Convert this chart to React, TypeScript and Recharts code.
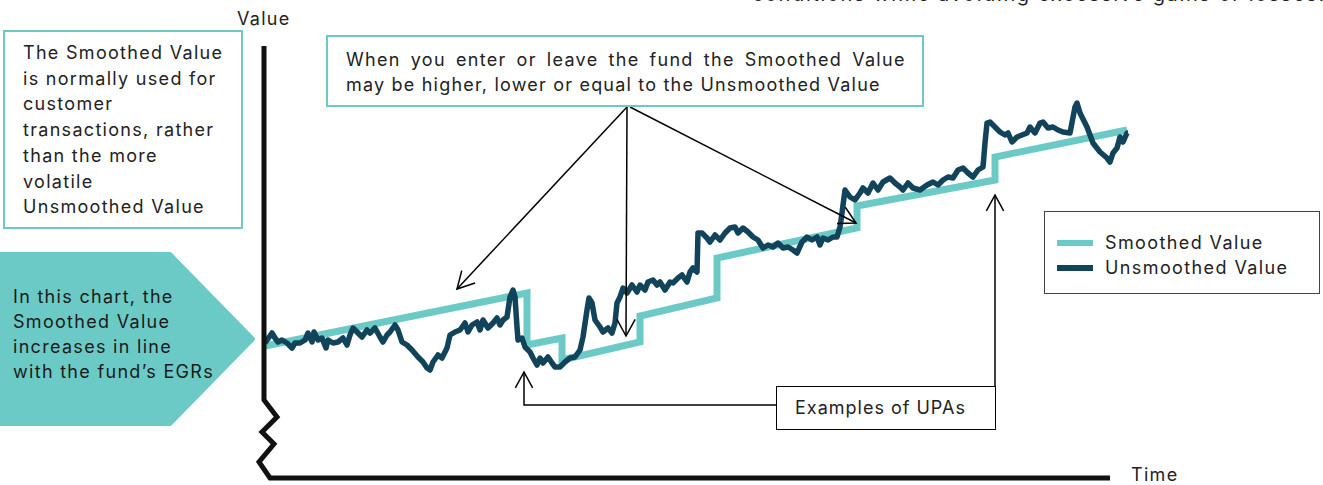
import React from "react";
import { LineChart, Line, XAxis, YAxis, Legend } from "recharts";

// time index vs fund value (arbitrary units)
const smoothedPoints: [number, number][] = [
  [0, 131], [262, 184], [262, 132], [297, 139], [297, 117], [375, 135],
  [375, 161], [452, 179], [452, 219], [592, 249], [592, 271], [730, 297],
  [730, 320], [862, 347],
];

const unsmoothedPoints: [number, number][] = [
  [0, 134], [7, 144], [10, 139], [13, 135], [17, 137], [22, 134], [27, 129],
  [30, 134], [35, 134], [40, 137], [43, 144], [47, 135], [49, 145], [53, 137],
  [57, 139], [61, 129], [63, 137], [68, 134], [73, 135], [78, 139], [82, 132],
  [85, 142], [88, 149], [93, 144], [97, 140], [102, 147], [105, 144], [110, 149],
  [115, 140], [118, 135], [122, 142], [125, 145], [130, 152], [133, 147],
  [137, 135], [142, 132], [147, 127], [153, 120], [158, 115], [162, 109],
  [165, 107], [168, 115], [173, 122], [177, 119], [182, 129], [185, 142],
  [190, 145], [195, 147], [200, 154], [203, 145], [207, 152], [212, 155],
  [215, 147], [218, 157], [223, 149], [228, 154], [232, 159], [235, 152],
  [238, 157], [242, 160], [245, 180], [248, 187], [250, 180], [252, 150],
  [253, 137], [257, 139], [260, 130], [265, 125], [268, 119], [272, 112],
  [275, 119], [278, 114], [283, 120], [287, 114], [290, 110], [295, 110],
  [300, 115], [305, 119], [310, 120], [315, 127], [318, 140], [322, 167],
  [324, 179], [327, 174], [330, 157], [335, 150], [338, 145], [343, 149],
  [347, 144], [350, 154], [352, 174], [355, 180], [358, 189], [362, 184],
  [367, 192], [372, 185], [375, 192], [380, 187], [383, 195], [388, 197],
  [392, 192], [395, 195], [400, 187], [405, 195], [408, 194], [413, 199],
  [417, 202], [422, 195], [425, 205], [428, 209], [432, 205], [433, 244],
  [437, 244], [442, 239], [445, 235], [450, 242], [455, 237], [460, 244],
  [465, 249], [470, 250], [473, 244], [478, 249], [483, 245], [488, 240],
  [493, 237], [498, 229], [503, 232], [508, 230], [513, 234], [518, 229],
  [523, 230], [528, 227], [532, 224], [537, 235], [542, 240], [547, 237],
  [552, 240], [555, 232], [558, 239], [563, 237], [568, 240], [572, 240],
  [575, 250], [577, 264], [580, 287], [585, 280], [590, 277], [595, 284],
  [598, 289], [603, 284], [608, 294], [613, 287], [618, 295], [625, 299],
  [630, 294], [635, 290], [638, 287], [643, 294], [648, 289], [655, 287],
  [662, 292], [668, 295], [673, 292], [678, 297], [683, 300], [688, 299],
  [693, 307], [698, 309], [703, 304], [708, 300], [713, 307], [718, 310],
  [720, 334], [722, 354], [725, 355], [730, 350], [735, 345], [740, 342],
  [743, 344], [747, 335], [752, 340], [757, 342], [762, 344], [765, 350],
  [770, 344], [775, 354], [778, 355], [783, 349], [788, 350], [793, 347],
  [798, 345], [805, 344], [810, 370], [812, 374], [815, 364], [822, 350],
  [828, 334], [835, 325], [842, 319], [845, 315], [848, 324], [852, 329],
  [855, 340], [858, 335], [862, 344], [863, 344],
];

const seriesNames = ["Smoothed Value", "Unsmoothed Value"];

const leftNote = [
  "The Smoothed Value",
  "is normally used for",
  "customer",
  "transactions, rather",
  "than the more",
  "volatile",
  "Unsmoothed Value",
];
const topNote = [
  "When you enter or leave the fund the Smoothed Value",
  "may be higher, lower or equal to the Unsmoothed Value",
];
const arrowNote = [
  "In this chart, the",
  "Smoothed Value",
  "increases in line",
  "with the fund\u2019s EGRs",
];

const TEAL = "#6ccac6";
const NAVY = "#11435a";
const FONT = "Inter, 'Noto Sans', sans-serif";
const LS = "1.3px";

const toRows = (pts: [number, number][]) => pts.map(([t, v]) => ({ t, v }));

const head = (x1: number, y1: number, x2: number, y2: number, len = 19, ang = 0.5) => {
  const a = Math.atan2(y2 - y1, x2 - x1);
  return `M${x2 - len * Math.cos(a - ang)},${y2 - len * Math.sin(a - ang)} L${x2},${y2} L${
    x2 - len * Math.cos(a + ang)
  },${y2 - len * Math.sin(a + ang)}`;
};

const renderLegend = (props: any) => {
  const items = props.payload || [];
  return (
    <div
      style={{
        padding: "18px 0 0 12px",
        fontFamily: FONT,
        fontSize: 18,
        letterSpacing: "1.4px",
        color: "#222",
      }}
    >
      {items.map((it: any) => (
        <div key={it.value} style={{ display: "flex", alignItems: "center", height: 25 }}>
          <span
            style={{
              display: "inline-block",
              width: 36,
              height: 6,
              background: it.color,
              marginRight: 12,
            }}
          />
          {it.value}
        </div>
      ))}
    </div>
  );
};

export default function App() {
  return (
    <div
      style={{
        position: "absolute",
        left: 0,
        top: 0,
        width: 1323,
        height: 485,
        overflow: "hidden",
        background: "#fff",
        fontFamily: FONT,
        letterSpacing: LS,
        color: "#222",
      }}
    >
      <div style={{ position: "absolute", left: 0, top: 0 }}>
        <LineChart width={1323} height={485} margin={{ top: 45, right: 193, bottom: 8, left: 265 }}>
          <XAxis type="number" dataKey="t" domain={[0, 865]} hide />
          <YAxis type="number" dataKey="v" domain={[0, 432]} hide />
          <Line
            data={toRows(smoothedPoints)}
            dataKey="v"
            name={seriesNames[0]}
            stroke={TEAL}
            strokeWidth={7}
            dot={false}
            isAnimationActive={false}
          />
          <Line
            data={toRows(unsmoothedPoints)}
            dataKey="v"
            name={seriesNames[1]}
            stroke={NAVY}
            strokeWidth={5.5}
            strokeLinejoin="round"
            dot={false}
            isAnimationActive={false}
          />
          <Legend
            layout="vertical"
            align="center"
            verticalAlign="middle"
            content={renderLegend}
            wrapperStyle={{
              left: 1044,
              top: 211,
              width: 276,
              height: 83,
              border: "1px solid #444",
              boxSizing: "border-box",
              background: "#fff",
            }}
          />
        </LineChart>
      </div>

      <svg
        width={1323}
        height={485}
        style={{ position: "absolute", left: 0, top: 0, pointerEvents: "none" }}
      >
        <polygon
          points="0,254 170,254 253,339 170,424 0,424"
          fill={TEAL}
          stroke={TEAL}
          strokeWidth={4}
          strokeLinejoin="round"
        />
        {/* axes with break */}
        <polyline
          points="264,46 264,400 277,417 262,432 274,444 259,462 270,478 1110,478"
          fill="none"
          stroke="#111"
          strokeWidth={5}
          strokeLinejoin="miter"
        />
        <g stroke="#000" strokeWidth={1.5} fill="none">
          <line x1={627} y1={107} x2={457} y2={289} />
          <path d={head(627, 107, 457, 289)} />
          <line x1={627} y1={107} x2={626} y2={336} />
          <path d={head(627, 107, 626, 336)} />
          <line x1={630} y1={107} x2={856} y2={223} />
          <path d={head(630, 107, 856, 223)} />
          <polyline points="776,405 524,405 524,372" />
          <path d={head(524, 405, 524, 372, 18)} />
          <line x1={995} y1={386} x2={995} y2={195} />
          <path d={head(995, 386, 995, 195, 18)} />
        </g>
      </svg>

      <div
        style={{
          position: "absolute",
          left: 752,
          top: -18,
          fontSize: 20,
          letterSpacing: "1.6px",
          whiteSpace: "nowrap",
        }}
      >
        conditions while avoiding excessive gains or losses.
      </div>

      <div style={{ position: "absolute", left: 237, top: 8, fontSize: 18 }}>Value</div>
      <div
        style={{
          position: "absolute",
          left: 1131,
          top: 466,
          fontSize: 18,
          lineHeight: "17px",
        }}
      >
        Time
      </div>

      <div
        style={{
          position: "absolute",
          left: 3,
          top: 30,
          width: 240,
          height: 199,
          border: `2px solid ${TEAL}`,
          boxSizing: "border-box",
          padding: "8px 0 0 18px",
          fontSize: 18,
          lineHeight: "25.7px",
          background: "#fff",
        }}
      >
        {leftNote.map((l) => (
          <div key={l}>{l}</div>
        ))}
      </div>

      <div
        style={{
          position: "absolute",
          left: 326,
          top: 35,
          width: 598,
          height: 72,
          border: `2px solid ${TEAL}`,
          boxSizing: "border-box",
          padding: "10px 0 0 18px",
          fontSize: 18,
          lineHeight: "25px",
          background: "#fff",
          whiteSpace: "nowrap",
        }}
      >
        <div style={{ wordSpacing: "3.7px" }}>{topNote[0]}</div>
        <div style={{ letterSpacing: "1.2px" }}>{topNote[1]}</div>
      </div>

      <div
        style={{
          position: "absolute",
          left: 13,
          top: 284,
          fontSize: 18,
          lineHeight: "25px",
          color: "#1a1a1a",
        }}
      >
        {arrowNote.map((l) => (
          <div key={l}>{l}</div>
        ))}
      </div>

      <div
        style={{
          position: "absolute",
          left: 776,
          top: 386,
          width: 220,
          height: 44,
          border: "1.5px solid #000",
          boxSizing: "border-box",
          padding: "10px 0 0 18px",
          fontSize: 18,
          lineHeight: "22px",
          background: "#fff",
          letterSpacing: "1px",
        }}
      >
        Examples of UPAs
      </div>
    </div>
  );
}
